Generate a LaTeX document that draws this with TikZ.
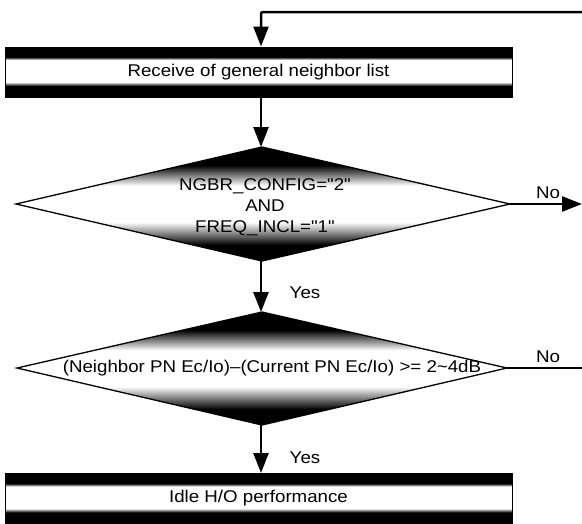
\documentclass[tikz,border=0pt]{standalone}
\usepackage{fontspec}
\newfontfamily\figfont[FakeStretch=1.1]{Liberation Sans}
\usetikzlibrary{arrows.meta}
\pgfdeclareverticalshading{boxshade}{100bp}{color(0bp)=(black); color(36bp)=(black); color(40bp)=(white); color(62bp)=(white); color(65bp)=(black); color(100bp)=(black)}
\pgfdeclareverticalshading{diashade}{100bp}{color(0bp)=(black); color(32bp)=(black); color(42bp)=(white); color(58bp)=(white); color(67bp)=(black); color(100bp)=(black)}
\tikzset{
  lbl/.style={font=\figfont\fontsize{17}{21}\selectfont, inner sep=0pt, align=center},
  procbox/.style={lbl, shade, shading=boxshade, draw=black, line width=1pt, minimum width=507pt, minimum height=50pt},
  decision/.style={shade, shading=diashade, draw=black, line width=1.3pt, line join=miter},
  flow/.style={line width=2.5pt, -{Triangle[length=20pt,width=15pt]}},
  plain/.style={line width=2.2pt}
}
\begin{document}
\begin{tikzpicture}[x=1pt,y=-1pt]
\useasboundingbox (0,0) rectangle (582,523);
% boxes
\node[procbox] (b1) at (258.5,72) {Receive of general neighbor list};
\node[procbox] (b2) at (258.5,498.5) {Idle H/O performance};
% diamond 1
\coordinate (d1t) at (262,147);
\coordinate (d1b) at (262,261);
\coordinate (d1l) at (16,204);
\coordinate (d1r) at (510,204);
\path[decision] (d1l) -- (d1t) -- (d1r) -- (d1b) -- cycle;
\node[lbl] (d1txt) at (265,207) {NGBR\_CONFIG="2"\\AND\\FREQ\_INCL="1"};
% diamond 2
\coordinate (d2t) at (262,312);
\coordinate (d2b) at (262,425);
\coordinate (d2l) at (17,368);
\coordinate (d2r) at (507,368);
\path[decision] (d2l) -- (d2t) -- (d2r) -- (d2b) -- cycle;
\node[lbl] (d2txt) at (272,368) {(Neighbor PN Ec/Io)\textendash(Current PN Ec/Io) >= 2\textasciitilde4dB};
% loop-back connector
\coordinate (loopin) at (582,12);
\coordinate (no1end) at (582,204);
\coordinate (no2end) at (582,368);
\draw[flow, rounded corners=2pt] (loopin) -- (261,12) -- (b1.north -| 261,0);
\draw[flow] (b1.south -| 261,0) -- (d1t -| 261,0);
\draw[flow] (d1b -| 261,0) -- (d2t -| 261,0);
\draw[flow] (d2b -| 261,0) -- (b2.north -| 261,0);
\draw[flow] (d1r) -- (no1end);
\draw[plain] (d2r) -- (no2end);
% labels
\node[lbl] (yes1) at (305,293) {Yes};
\node[lbl] (yes2) at (305,458) {Yes};
\node[lbl] (no1) at (548,193) {No};
\node[lbl] (no2) at (548,357) {No};
\end{tikzpicture}
\end{document}
